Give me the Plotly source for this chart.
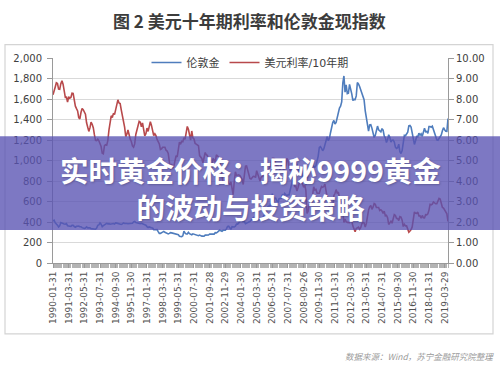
import plotly.graph_objects as go

# ---------------- data (monthly, 1990-01 .. 2019-06) ----------------
gold_price = [
    410, 417, 393, 374, 369, 352, 362, 395, 389, 380, 381, 378,   # 1990
    384, 364, 363, 358, 357, 367, 368, 356, 349, 358, 360, 361,   # 1991
    354, 354, 345, 338, 337, 341, 353, 343, 345, 344, 335, 334,   # 1992
    329, 330, 330, 342, 367, 372, 392, 379, 355, 364, 374, 383,   # 1993
    387, 382, 384, 378, 381, 386, 385, 380, 391, 389, 384, 379,   # 1994
    379, 376, 382, 391, 385, 387, 386, 383, 383, 383, 386, 387,   # 1995
    400, 405, 396, 393, 392, 385, 383, 387, 383, 381, 378, 369,   # 1996
    355, 346, 352, 344, 344, 341, 324, 324, 323, 325, 306, 289,   # 1997
    289, 297, 296, 308, 299, 292, 293, 284, 289, 296, 294, 291,   # 1998
    287, 287, 286, 282, 277, 261, 256, 257, 265, 311, 293, 283,   # 1999
    284, 300, 286, 280, 275, 285, 282, 274, 273, 270, 266, 272,   # 2000
    266, 262, 263, 261, 272, 270, 268, 273, 283, 283, 276, 276,   # 2001
    282, 296, 294, 302, 314, 321, 314, 310, 319, 317, 319, 333,   # 2002
    357, 359, 340, 328, 355, 356, 351, 360, 379, 379, 389, 407,   # 2003
    414, 405, 406, 404, 384, 392, 398, 400, 405, 420, 439, 442,   # 2004
    424, 423, 434, 429, 422, 431, 424, 438, 456, 470, 476, 510,   # 2005
    549, 555, 557, 610, 676, 596, 633, 632, 598, 586, 627, 629,   # 2006
    631, 665, 655, 679, 667, 655, 665, 665, 712, 754, 806, 803,   # 2007
    889, 922, 968, 909, 888, 889, 939, 839, 829, 806, 760, 816,   # 2008
    858, 943, 924, 890, 928, 945, 934, 949, 996, 1043, 1127, 1135,  # 2009
    1118, 1095, 1113, 1148, 1205, 1232, 1193, 1215, 1271, 1343, 1370, 1391,  # 2010
    1356, 1372, 1424, 1474, 1512, 1529, 1572, 1756, 1825, 1666, 1739, 1652,  # 2011
    1656, 1742, 1673, 1650, 1585, 1596, 1594, 1630, 1760, 1747, 1722, 1685,  # 2012
    1671, 1627, 1593, 1487, 1414, 1343, 1286, 1347, 1349, 1316, 1275, 1225,  # 2013
    1244, 1300, 1336, 1299, 1288, 1279, 1311, 1296, 1239, 1222, 1176, 1202,  # 2014
    1251, 1227, 1179, 1198, 1199, 1181, 1131, 1117, 1125, 1159, 1086, 1068,  # 2015
    1097, 1200, 1246, 1242, 1261, 1276, 1337, 1341, 1326, 1266, 1238, 1157,  # 2016
    1192, 1234, 1231, 1266, 1246, 1260, 1236, 1283, 1315, 1280, 1284, 1265,  # 2017
    1331, 1331, 1325, 1335, 1304, 1281, 1238, 1202, 1198, 1215, 1221, 1250,  # 2018
    1291, 1320, 1300, 1285, 1284, 1409,                                        # 2019
]

us10y_rate = [
    8.21, 8.47, 8.59, 8.79, 8.76, 8.48, 8.47, 8.75, 8.89, 8.72, 8.39, 8.08,  # 1990
    8.09, 7.85, 8.11, 8.04, 8.07, 8.28, 8.27, 7.90, 7.65, 7.53, 7.42, 7.09,  # 1991
    7.03, 7.34, 7.54, 7.48, 7.39, 7.26, 6.84, 6.59, 6.42, 6.59, 6.87, 6.77,  # 1992
    6.60, 6.26, 5.98, 5.97, 6.04, 5.96, 5.81, 5.68, 5.36, 5.33, 5.72, 5.77,  # 1993
    5.75, 5.97, 6.48, 6.97, 7.18, 7.10, 7.30, 7.24, 7.46, 7.74, 7.96, 7.81,  # 1994
    7.78, 7.47, 7.20, 7.06, 6.63, 6.17, 6.28, 6.49, 6.20, 6.04, 5.93, 5.71,  # 1995
    5.65, 5.81, 6.27, 6.51, 6.74, 6.91, 6.87, 6.64, 6.83, 6.53, 6.20, 6.30,  # 1996
    6.58, 6.42, 6.69, 6.89, 6.71, 6.49, 6.22, 6.30, 6.21, 6.03, 5.88, 5.81,  # 1997
    5.54, 5.57, 5.65, 5.64, 5.65, 5.50, 5.46, 5.34, 4.81, 4.53, 4.83, 4.65,  # 1998
    4.72, 5.00, 5.23, 5.18, 5.54, 5.90, 5.79, 5.94, 5.92, 6.11, 6.03, 6.28,  # 1999
    6.66, 6.52, 6.26, 5.99, 6.44, 6.10, 6.05, 5.83, 5.80, 5.74, 5.72, 5.24,  # 2000
    5.16, 5.10, 4.89, 5.14, 5.39, 5.28, 5.24, 4.97, 4.73, 4.57, 4.65, 5.09,  # 2001
    5.04, 4.91, 5.28, 5.21, 5.16, 4.93, 4.65, 4.26, 3.87, 3.94, 4.05, 4.03,  # 2002
    4.05, 3.90, 3.81, 3.96, 3.57, 3.33, 3.98, 4.45, 4.27, 4.29, 4.30, 4.27,  # 2003
    4.15, 4.08, 3.83, 4.35, 4.72, 4.73, 4.50, 4.28, 4.13, 4.10, 4.19, 4.23,  # 2004
    4.22, 4.17, 4.50, 4.34, 4.14, 4.00, 4.18, 4.26, 4.20, 4.46, 4.54, 4.47,  # 2005
    4.42, 4.57, 4.72, 4.99, 5.11, 5.11, 5.09, 4.88, 4.72, 4.73, 4.60, 4.56,  # 2006
    4.76, 4.72, 4.56, 4.69, 4.75, 5.10, 5.00, 4.67, 4.52, 4.53, 4.15, 4.10,  # 2007
    3.74, 3.74, 3.51, 3.68, 3.88, 4.10, 4.01, 3.89, 3.69, 3.81, 3.53, 2.42,  # 2008
    2.52, 2.87, 2.82, 2.93, 3.29, 3.72, 3.56, 3.59, 3.40, 3.39, 3.40, 3.59,  # 2009
    3.73, 3.69, 3.73, 3.85, 3.42, 3.20, 3.01, 2.70, 2.65, 2.54, 2.76, 3.29,  # 2010
    3.39, 3.58, 3.41, 3.46, 3.17, 3.00, 3.00, 2.30, 1.98, 2.15, 2.01, 1.98,  # 2011
    1.97, 1.97, 2.17, 2.05, 1.80, 1.62, 1.53, 1.68, 1.72, 1.75, 1.65, 1.72,  # 2012
    1.91, 1.98, 1.96, 1.76, 1.93, 2.30, 2.58, 2.74, 2.81, 2.62, 2.72, 2.90,  # 2013
    2.86, 2.71, 2.72, 2.71, 2.56, 2.60, 2.54, 2.42, 2.53, 2.30, 2.33, 2.21,  # 2014
    1.88, 1.98, 2.04, 1.94, 2.20, 2.36, 2.32, 2.17, 2.17, 2.07, 2.26, 2.24,  # 2015
    2.09, 1.78, 1.89, 1.81, 1.81, 1.64, 1.50, 1.56, 1.63, 1.76, 2.14, 2.49,  # 2016
    2.43, 2.42, 2.48, 2.30, 2.30, 2.19, 2.32, 2.21, 2.20, 2.36, 2.35, 2.40,  # 2017
    2.58, 2.86, 2.84, 2.87, 2.98, 2.91, 2.89, 2.89, 3.00, 3.15, 3.12, 2.83,  # 2018
    2.71, 2.68, 2.57, 2.53, 2.40, 2.03,                                      # 2019
]

x_tick_labels = [
    "1990-01-31", "1991-03-31", "1992-05-31", "1993-07-31", "1994-09-30",
    "1995-11-30", "1997-01-31", "1998-03-31", "1999-05-31", "2000-07-31",
    "2001-09-28", "2002-11-29", "2004-01-30", "2005-03-31", "2006-05-31",
    "2007-07-31", "2008-09-26", "2009-11-30", "2011-01-31", "2012-03-30",
    "2013-05-31", "2014-07-31", "2015-09-30", "2016-11-30", "2018-01-31",
    "2019-03-29",
]
label_step = 14  # one label every 14 monthly categories

series_names = ["伦敦金", "美元利率/10年期"]
title_text = "图 2 美元十年期利率和伦敦金现指数"
source_text = "数据来源：Wind，苏宁金融研究院整理"
banner_lines = ["实时黄金价格：揭秘9999黄金", "的波动与投资策略"]

# ---------------- figure ----------------
n = len(gold_price)
xs = list(range(n))

# geometry helpers (plot area: x 53..448 px, y 57.5..263 px)
PL, PR, PT, PB = 53, 448, 57.5, 263
PW, PH = PR - PL, PB - PT
def px(xp):
    return (xp - PL) / PW
def py(yp):
    return (PB - yp) / PH

fig = go.Figure()
fig.add_trace(go.Scatter(
    x=xs, y=gold_price, name=series_names[0], mode="lines",
    line=dict(color="#4f7dbd", width=1.6), yaxis="y",
))
fig.add_trace(go.Scatter(
    x=xs, y=us10y_rate, name=series_names[1], mode="lines",
    line=dict(color="#b8494b", width=1.6), yaxis="y2",
))

tick_font = dict(family="DejaVu Sans", size=10, color="#404040")
axis_grey = "#9a9a9a"

fig.update_layout(
    width=500, height=371,
    margin=dict(l=PL, r=500 - PR, t=PT, b=371 - PB),
    paper_bgcolor="white", plot_bgcolor="white",
    showlegend=True,
    legend=dict(
        orientation="h", x=px(250), xanchor="center", y=py(62), yanchor="middle",
        font=dict(family="DejaVu Sans, Noto Sans CJK SC", size=11, color="#404040"),
        bgcolor="rgba(0,0,0,0)", itemwidth=30, tracegroupgap=0,
    ),
    xaxis=dict(
        range=[0, n - 1], tickmode="array",
        tickvals=xs[::label_step][:len(x_tick_labels)], ticktext=x_tick_labels,
        tickangle=-90, ticks="outside", ticklen=4, tickcolor=axis_grey,
        showline=True, linecolor=axis_grey, linewidth=1,
        showgrid=False, zeroline=False,
        tickfont=dict(family="DejaVu Sans", size=9, color="#505050"),
        minor=dict(ticks="outside", ticklen=4, tickcolor="#b4b4b4", dtick=1, tick0=0, showgrid=False),
    ),
    yaxis=dict(
        range=[0, 2000], dtick=200, tickformat=",d",
        ticks="outside", ticklen=5, tickcolor=axis_grey,
        showline=True, linecolor=axis_grey, linewidth=1,
        showgrid=True, gridcolor="#d9d9d9", gridwidth=1, zeroline=False,
        tickfont=tick_font, ticklabelstandoff=3,
    ),
    yaxis2=dict(
        range=[0, 10], dtick=1, tickformat=".2f", overlaying="y", side="right",
        ticks="outside", ticklen=5, tickcolor=axis_grey,
        showline=True, linecolor=axis_grey, linewidth=1,
        showgrid=False, zeroline=False, tickfont=tick_font,
    ),
)

# chart-area border
fig.add_shape(type="rect", xref="paper", yref="paper",
              x0=px(5), x1=px(493), y0=py(334), y1=py(44),
              line=dict(color="#d4d4d4", width=1.2), fillcolor="rgba(0,0,0,0)", layer="below")

# purple translucent banner
fig.add_shape(type="rect", xref="paper", yref="paper",
              x0=px(0), x1=px(500), y0=py(230), y1=py(136),
              line=dict(width=0), fillcolor="rgba(88,82,178,0.78)", layer="above")

# title
fig.add_annotation(text="<b>" + title_text + "</b>", xref="paper", yref="paper",
                   x=px(249), y=py(20), xanchor="center", yanchor="middle", showarrow=False,
                   font=dict(family="Noto Sans CJK SC", size=17, color="#3c3c3c"))

# source note
fig.add_annotation(text=source_text, xref="paper", yref="paper",
                   x=px(496), y=py(356), xanchor="right", yanchor="middle", showarrow=False,
                   font=dict(family="Noto Sans CJK SC", size=8.5, color="#9a9a9a", style="italic"))

# banner text (two lines in one block)
fig.add_annotation(text="<b>" + banner_lines[0] + "<br>" + banner_lines[1] + "</b>",
                   xref="paper", yref="paper", x=px(250.5), y=py(188),
                   xanchor="center", yanchor="middle", align="center", showarrow=False,
                   font=dict(family="Noto Sans CJK SC", size=28.5, color="white",
                             shadow="1px 1px 2px rgba(40,40,80,0.35)"))

fig.write_html(
    "out.html",
    config={"displayModeBar": False},
    post_script="document.body.style.margin='0';document.body.style.overflow='hidden';",
)
